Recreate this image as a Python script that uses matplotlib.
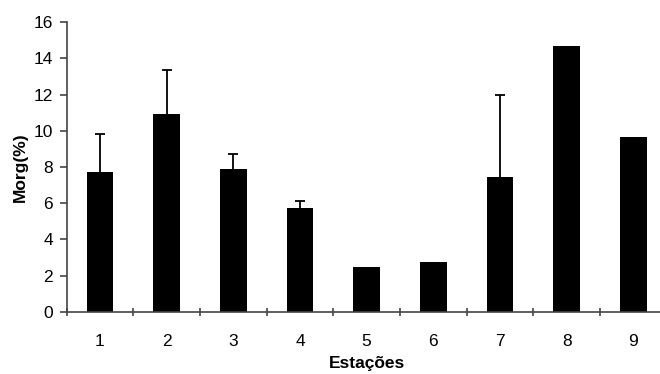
import numpy as np
import matplotlib
matplotlib.use("Agg")
import matplotlib.pyplot as plt

# Stations and organic matter (%)
estacoes = ["1", "2", "3", "4", "5", "6", "7", "8", "9"]
morg = [7.72, 10.92, 7.87, 5.76, 2.48, 2.78, 7.43, 14.66, 9.64]
erro_sup = [2.12, 2.41, 0.83, 0.34, 0, 0, 4.54, 0, 0]

plt.rcParams['font.family'] = ['Liberation Sans', 'DejaVu Sans']

fig = plt.figure(figsize=(6.6, 3.74), dpi=100)
ax = fig.add_axes([0.101, 0.166, 0.909, 0.775])

x = np.arange(len(estacoes))
ax.bar(x, morg, width=0.4, color="black", zorder=2)

# only upper error bars, and only where there is one
idx = [i for i, e in enumerate(erro_sup) if e > 0]
ex = x[idx]
ey = np.array(morg)[idx]
etop = ey + np.array(erro_sup)[idx]
ax.vlines(ex, ey, etop, color="black", linewidth=1.3, zorder=1)
ax.plot(ex, etop, linestyle="none", marker="_", markersize=7,
        markeredgewidth=1.3, color="black", zorder=1)

ax.set_xlim(-0.5, len(estacoes) - 0.5)
ax.set_ylim(0, 16)
ax.set_yticks(np.arange(0, 17, 2))
ax.set_xticks(x)
ax.set_xticklabels(estacoes)
ax.set_xticks(np.arange(-0.5, len(estacoes), 1), minor=True)
ax.tick_params(axis="x", which="major", length=0, pad=16, labelsize=12.5)
ax.tick_params(axis="x", which="minor", length=6, width=1.2, color="#444444", direction="inout")
ax.tick_params(axis="y", length=5, width=1.2, color="#444444", labelsize=12.5, pad=5)

for s in ["top", "right"]:
    ax.spines[s].set_visible(False)
for s in ["left", "bottom"]:
    ax.spines[s].set_color("#444444")
    ax.spines[s].set_linewidth(1.2)

ax.set_xlabel("Estações", fontsize=12.5, fontweight="bold", labelpad=5)
ax.set_ylabel("Morg(%)", fontsize=12.5, fontweight="bold", labelpad=4)

plt.savefig("out.png", dpi=100)
plt.close()
